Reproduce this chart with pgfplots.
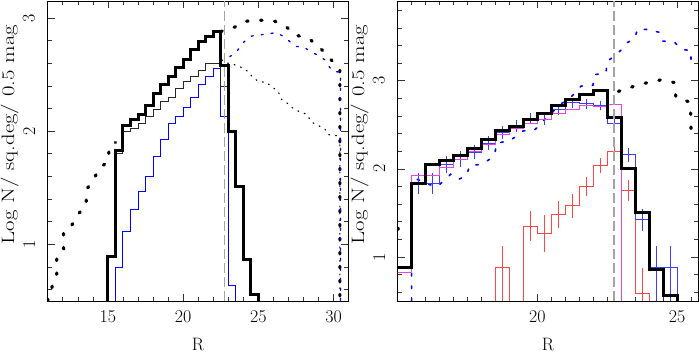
\documentclass[border=0pt]{standalone}
\usepackage{pgfplots}
\pgfplotsset{compat=1.18}
\definecolor{mymag}{RGB}{230,70,230}
\definecolor{myred}{RGB}{255,70,70}
\definecolor{myblue}{RGB}{60,60,255}
\definecolor{dashgray}{RGB}{165,165,165}
\pgfplotsset{
  panel/.style={
    scale only axis, width=300.3bp, height=299.5bp,
    axis line style={black, line width=0.8bp},
    tick style={black!80, line width=0.6bp},
    major tick length=7bp, minor tick length=4bp,
    tick align=inside, xtick pos=both, ytick pos=both,
    xticklabel pos=lower, yticklabel pos=left,
    /pgf/number format/assume math mode=true,
    tick label style={font=\fontsize{18}{21}\selectfont},
    xticklabel style={anchor=north, inner sep=0pt, yshift=-9bp},
    yticklabel style={xshift=-12.5bp, rotate=90, anchor=south, inner sep=0pt},
    every axis x label/.style={at={(axis description cs:0.5,0)}, anchor=north, inner sep=0pt, yshift=-37bp, font=\fontsize{18}{21}\selectfont},
    every axis y label/.style={at={(axis description cs:0,0.555)}, xshift=-38bp, rotate=90, anchor=center, inner sep=0pt, font=\fontsize{18}{21}\selectfont},
    xlabel={R}, ylabel={\scalebox{1.27}[1]{Log N/ sq.deg/ 0.5 mag}},
    ymin=0.5, ytick={1,2,3},
    clip=true,
  },
  hist/.style={const plot, line join=miter},
  thickdot/.style={black, line width=3.2bp, line cap=round, dash pattern=on 1.5bp off 12.5bp},
  thindot/.style={black, line width=1.2bp, line cap=round, dash pattern=on 0.8bp off 6bp},
  bluedot/.style={blue, line width=1.3bp, line cap=round, dash pattern=on 2bp off 8bp},
  bluedotR/.style={blue, line width=1.6bp, line cap=round, dash pattern=on 2.5bp off 10bp},
  vdash/.style={dashgray, line width=1.5bp, dash pattern=on 10bp off 4bp},
  ebar/.style={draw=none, mark=none, error bars/.cd, y dir=both, y explicit, error mark=none, error bar style={draw=#1, line width=1bp}},
}
\begin{document}
\begin{tikzpicture}
\path[use as bounding box] (0bp,0bp) rectangle (699bp,353bp);
% ---------------- LEFT PANEL ----------------
\begin{axis}[panel, at={(47.7bp,52bp)}, anchor=south west,
  xmin=11, xmax=30.95, ymax=3.145,
  xtick={15,20,25,30},
  minor xtick={11,12,13,14,16,17,18,19,21,22,23,24,26,27,28,29},
  minor ytick={0.6,0.8,1.2,1.4,1.6,1.8,2.2,2.4,2.6,2.8}]
\addplot[thickdot] coordinates {(11.0,0.5) (11.04,0.52) (11.3,0.63) (11.6,0.74) (11.6,0.89) (12.05,0.96) (12.05,1.11) (12.6,1.17) (13.05,1.27) (13.55,1.35) (13.6,1.49) (14.05,1.57) (14.4,1.67) (15.0,1.73) (15.1,1.86) (15.5,1.9)};
\addplot[thickdot] coordinates {(22.5,2.88) (23.44,2.92) (24.1,2.97) (25.1,2.98) (26.09,2.97) (26.87,2.92) (27.42,2.85) (28.3,2.82) (28.93,2.76) (29.41,2.69) (29.97,2.61) (30.41,2.54) (30.41,0.5)};
\addplot[bluedot] coordinates {(22.5,2.62) (23.0,2.65) (23.48,2.69) (24.05,2.79) (24.55,2.84) (25.1,2.85) (25.65,2.86) (26.2,2.87) (26.76,2.83) (27.42,2.75) (28.04,2.74) (28.48,2.70) (28.97,2.67) (29.41,2.63) (29.9,2.53) (30.45,2.52) (30.45,0.5)};
\addplot[thindot] coordinates {(22.5,2.60) (23.0,2.60) (23.33,2.59) (23.77,2.57) (24.28,2.53) (24.59,2.48) (24.98,2.44) (25.54,2.43) (25.91,2.39) (26.31,2.35) (26.54,2.28) (26.98,2.24) (27.31,2.20) (27.75,2.17) (28.2,2.15) (28.53,2.08) (28.97,2.05) (29.41,2.02) (29.63,1.97) (30.19,1.96) (30.41,1.96) (30.41,0.5)};
\addplot[hist, blue, line width=1bp] coordinates {(15.5,0.5) (15.5,0.80) (16,1.11) (16.5,1.31) (17,1.47) (17.5,1.60) (18,1.78) (18.5,1.93) (19,2.07) (19.5,2.13) (20,2.21) (20.5,2.30) (21,2.41) (21.5,2.48) (22,2.55) (22.5,2.13) (23,0.635) (23.5,0.5)};
\addplot[hist, black!85, line width=1bp] coordinates {(15,0.5) (15,0.89) (15.5,1.80) (16,2.0) (16.5,2.02) (17,2.07) (17.5,2.13) (18,2.19) (18.5,2.26) (19,2.30) (19.5,2.38) (20,2.44) (20.5,2.48) (21,2.54) (21.5,2.60) (22,2.60) (22.5,2.39) (23,2.0) (23.5,1.51) (24,0.87) (24.5,0.56) (25,0.5)};
\addplot[hist, black, line width=3bp] coordinates {(15,0.5) (15,0.89) (15.5,1.83) (16,2.05) (16.5,2.10) (17,2.15) (17.5,2.23) (18,2.33) (18.5,2.41) (19,2.48) (19.5,2.56) (20,2.63) (20.5,2.72) (21,2.79) (21.5,2.84) (22,2.88) (22.5,2.58) (23,2.0) (23.5,1.51) (24,0.87) (24.5,0.56) (25,0.5)};
\addplot[vdash] coordinates {(22.75,0.5) (22.75,3.145)};
\end{axis}
% ---------------- RIGHT PANEL ----------------
\begin{axis}[panel, at={(397.7bp,52bp)}, anchor=south west,
  xmin=15, xmax=25.75, ymax=3.9,
  xtick={20,25},
  minor xtick={15.5,16,16.5,17,17.5,18,18.5,19,19.5,20.5,21,21.5,22,22.5,23,23.5,24,24.5,25.5},
  minor ytick={0.6,0.8,1.2,1.4,1.6,1.8,2.2,2.4,2.6,2.8,3.2,3.4,3.6,3.8}]
\addplot[bluedotR] coordinates {(15.5,0.5) (15.5,1.85) (15.71,1.88) (16.15,1.82) (16.43,1.80) (16.9,1.94) (17.17,1.88) (17.46,1.92) (17.58,2.04) (17.98,2.05) (18.3,2.11) (18.48,2.18) (18.54,2.29) (19.0,2.32) (19.25,2.37) (19.49,2.43) (19.93,2.45) (20.2,2.54) (20.5,2.63) (20.8,2.73) (21.13,2.79) (21.57,2.94) (21.99,2.95) (22.05,3.07) (22.46,3.09) (22.49,3.22) (22.76,3.28) (23.0,3.35) (23.2,3.43) (23.48,3.48) (23.59,3.59) (23.99,3.58) (24.37,3.55) (24.49,3.45) (24.9,3.44) (25.14,3.36) (25.5,3.34) (25.5,3.19)};
\addplot[hist, myred, line width=1bp] coordinates {(18.5,0.3) (18.5,0.88) (19,0.3) (19.5,1.35) (20,1.27) (20.5,1.48) (21,1.58) (21.5,1.80) (22,2.04) (22.5,2.20) (23,1.75) (23.5,0.58) (24,0.3)};
\addplot[ebar=myred] coordinates {
 (18.75,0.88) += (0,0.24) -= (0,0.5)
 (19.75,1.35) +- (0,0.17)
 (20.25,1.27) +- (0,0.21)
 (20.75,1.48) +- (0,0.15)
 (21.25,1.58) +- (0,0.14)
 (21.75,1.80) +- (0,0.11)
 (22.25,2.04) +- (0,0.085)
 (22.75,2.20) +- (0,0.09)
 (23.25,1.75) +- (0,0.12)
 (23.75,0.58) += (0,0.29) -= (0,0.3)};
\addplot[hist, myblue, line width=1bp] coordinates {(15.5,1.0) (15.5,1.83) (16,1.83) (16.5,2.05) (17,2.11) (17.5,2.19) (18,2.29) (18.5,2.41) (19,2.49) (19.5,2.57) (20,2.56) (20.5,2.67) (21,2.75) (21.5,2.74) (22,2.72) (22.5,2.51) (23,2.16) (23.5,1.42) (24,0.88) (24.5,0.88) (25,0.5)};
\addplot[ebar=myblue] coordinates {
 (15.75,1.83) +- (0,0.12)
 (16.25,1.83) +- (0,0.12)
 (16.75,2.05) +- (0,0.10)
 (17.25,2.11) +- (0,0.09)
 (17.75,2.19) +- (0,0.08)
 (18.25,2.29) +- (0,0.08)
 (18.75,2.41) +- (0,0.075)
 (19.25,2.49) +- (0,0.07)
 (19.75,2.57) +- (0,0.065)
 (20.25,2.56) +- (0,0.06)
 (20.75,2.67) +- (0,0.06)
 (21.25,2.75) +- (0,0.055)
 (21.75,2.74) +- (0,0.055)
 (22.25,2.72) +- (0,0.05)
 (22.75,2.51) +- (0,0.065)
 (23.25,2.16) +- (0,0.08)
 (23.75,1.42) +- (0,0.12)
 (24.25,0.88) += (0,0.24) -= (0,0.5)
 (24.75,0.88) += (0,0.24) -= (0,0.5)};
\addplot[hist, mymag, line width=1bp] coordinates {(15,0.82) (15.5,1.92) (16,1.92) (16.5,2.02) (17,2.11) (17.5,2.20) (18,2.28) (18.5,2.39) (19,2.46) (19.5,2.52) (20,2.56) (20.5,2.63) (21,2.67) (21.5,2.72) (22,2.71) (22.5,2.73) (23,0.5)};
\addplot[hist, black, line width=3bp] coordinates {(15,0.88) (15.5,1.83) (16,2.05) (16.5,2.10) (17,2.15) (17.5,2.23) (18,2.33) (18.5,2.43) (19,2.48) (19.5,2.56) (20,2.63) (20.5,2.72) (21,2.79) (21.5,2.84) (22,2.89) (22.5,2.58) (23,2.0) (23.5,1.51) (24,0.86) (24.5,0.56) (25,0.5)};
\addplot[thickdot] coordinates {(15.0,1.31) (15.03,1.33)};
\addplot[thickdot] coordinates {(22.9,2.88) (23.48,2.94) (23.95,2.98) (24.43,3.01) (24.9,2.98) (24.96,2.81) (25.44,2.76) (25.5,2.59) (25.5,2.42)};
\addplot[vdash] coordinates {(22.75,0.5) (22.75,3.9)};
\end{axis}
\end{tikzpicture}
\end{document}
